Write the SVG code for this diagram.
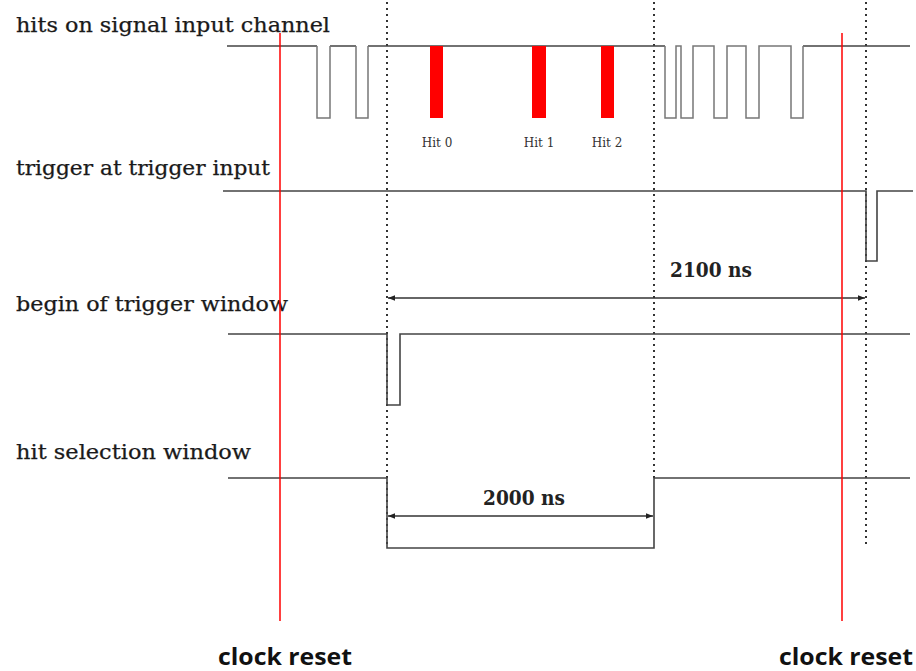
<svg xmlns="http://www.w3.org/2000/svg" width="916" height="671" viewBox="0 0 916 671">
<style>
.lbl{font-family:"DejaVu Serif","Liberation Serif",serif;font-size:20px;fill:#1a1a1a;stroke:#1a1a1a;stroke-width:0.25}
.hit{font-family:"DejaVu Serif","Liberation Serif",serif;font-size:12px;fill:#333;text-anchor:middle}
.dim{font-family:"DejaVu Serif","Liberation Serif",serif;font-size:21px;font-weight:bold;fill:#222;text-anchor:middle}
.clk{font-family:"Open Sans","DejaVu Sans",sans-serif;font-size:23px;font-weight:bold;fill:#111;text-anchor:middle}
.sig{fill:none;stroke:#444;stroke-width:1.6}
.pul{fill:none;stroke:#777;stroke-width:1.5}
.dot{stroke:#333;stroke-width:2;stroke-dasharray:2 4}
.red{stroke:#ff0000;stroke-width:1.5}
.arr{stroke:#333;stroke-width:1.3;fill:none;marker-start:url(#ah);marker-end:url(#ah)}
</style>
<defs>
<marker id="ah" viewBox="0 0 10 10" refX="10" refY="5" markerWidth="9" markerHeight="7" markerUnits="userSpaceOnUse" orient="auto-start-reverse">
<path d="M0,1 L10,5 L0,9 Z" fill="#222"/>
</marker>
</defs>
<rect width="916" height="671" fill="#fff"/>

<g id="labels">
<text class="lbl" x="16" y="32" textLength="314" lengthAdjust="spacingAndGlyphs">hits on signal input channel</text>
<text class="lbl" x="16" y="175" textLength="254" lengthAdjust="spacingAndGlyphs">trigger at trigger input</text>
<text class="lbl" x="16" y="311" textLength="272" lengthAdjust="spacingAndGlyphs">begin of trigger window</text>
<text class="lbl" x="16" y="459" textLength="235" lengthAdjust="spacingAndGlyphs">hit selection window</text>
</g>

<g id="dotted-lines">
<line class="dot" x1="387" y1="2" x2="387" y2="548"/>
<line class="dot" x1="654" y1="2" x2="654" y2="478"/>
<line class="dot" x1="866" y1="2" x2="866" y2="548"/>
</g>

<g id="signal-input">
<path class="sig" d="M227,46 H317 M330,46 H356 M368,46 H665 M803,46 H910"/>
<path class="pul" d="M317,46 V118 H330 V46 M356,46 V118 H368 V46"/>
<path class="pul" d="M665,46 V118 H676 V46 H681 V118 H693 V46 H714 V118 H727 V46 H746 V118 H759 V46 H791 V118 H803 V46"/>
<g id="hit0"><rect x="430" y="46" width="13" height="72" fill="#ff0000"/><text class="hit" x="437" y="147">Hit 0</text></g>
<g id="hit1"><rect x="532" y="46" width="14" height="72" fill="#ff0000"/><text class="hit" x="539" y="147">Hit 1</text></g>
<g id="hit2"><rect x="601" y="46" width="13" height="72" fill="#ff0000"/><text class="hit" x="607" y="147">Hit 2</text></g>
</g>

<g id="trigger-input">
<path class="sig" d="M223,191 H866 V261 H877 V191 H913"/>
</g>

<g id="begin-window">
<path class="sig" d="M228,334 H387 V405 H400 V334 H910"/>
</g>

<g id="hit-selection">
<path class="sig" d="M228,478 H387 V548 H654 V478 H910"/>
</g>

<g id="connectors">
<line class="arr" x1="388" y1="298" x2="865" y2="298"/>
<line class="arr" x1="388" y1="516" x2="653" y2="516"/>
</g>

<g id="dimensions">
<text class="dim" x="711" y="277" textLength="82" lengthAdjust="spacingAndGlyphs">2100 ns</text>
<text class="dim" x="524" y="505" textLength="82" lengthAdjust="spacingAndGlyphs">2000 ns</text>
</g>

<g id="clock-reset-1">
<line class="red" x1="280" y1="33" x2="280" y2="621"/>
<text class="clk" x="285" y="665" textLength="134" lengthAdjust="spacingAndGlyphs">clock reset</text>
</g>
<g id="clock-reset-2">
<line class="red" x1="842" y1="33" x2="842" y2="621"/>
<text class="clk" x="846" y="665" textLength="134" lengthAdjust="spacingAndGlyphs">clock reset</text>
</g>
</svg>
